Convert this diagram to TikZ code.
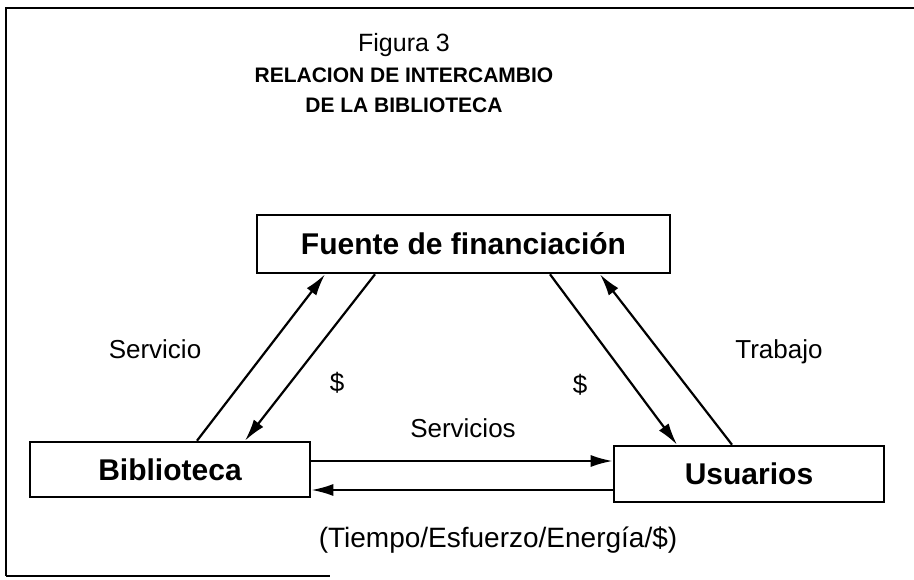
\documentclass[tikz,border=0pt]{standalone}
\usepackage{fontspec}
\setmainfont{Liberation Sans}
\usepackage{tikz}
\usetikzlibrary{arrows.meta,positioning,calc}

\tikzset{
  caja/.style={draw,line width=2.6pt,font=\bfseries\fontsize{30}{32}\selectfont,inner sep=0pt},
  flecha/.style={line width=2.2pt,-{Latex[length=22pt,width=12pt]}},
  etiq/.style={font=\fontsize{26}{28}\selectfont}
}

\begin{document}
\begin{tikzpicture}[x=1pt,y=-1pt]
\useasboundingbox (0,0) rectangle (914,580);
% Frame
\draw[line width=2.6pt] (914,8) -- (6,8) -- (6,576);
\draw[line width=1.2pt] (6,576) -- (330,576);

% Title
\node (fig) at (404,45) {\fontsize{25}{27}\selectfont Figura 3};
\node[font=\bfseries\fontsize{21}{30}\selectfont,align=center] (tit) at (404,90)
    {RELACION DE INTERCAMBIO\\DE LA BIBLIOTECA};

% Boxes
\node[caja,minimum width=413pt,minimum height=58pt] (fte) at (463.5,244) {Fuente de financiación};
\node[caja,minimum width=280pt,minimum height=55pt] (bib) at (170,469.5) {Biblioteca};
\node[caja,minimum width=270pt,minimum height=56pt] (usu) at (749,474) {Usuarios};

% Exchanges with the funding source
\draw[flecha] (bib.north -| 197,0) -- (fte.south -| 325,0);
\draw[flecha] (fte.south -| 375,0) -- (bib.north -| 245,0);
\draw[flecha] (fte.south -| 550,0) -- (usu.north -| 677,0);
\draw[flecha] (usu.north -| 732,0) -- (fte.south -| 600,0);

% Exchanges between library and users
\draw[flecha] (bib.east |- 0,461) -- (usu.west |- 0,461);
\draw[flecha] (usu.west |- 0,490) -- (bib.east |- 0,490);

% Labels
\node[etiq] (servicio) at (155,349) {Servicio};
\node[etiq] (din1) at (337,383) {\$};
\node[etiq] (din2) at (580,385) {\$};
\node[etiq] (trabajo) at (779,352) {Trabajo};
\node[etiq] (servicios) at (463,428) {Servicios};
\node[etiq,font=\fontsize{28}{30}\selectfont] (costo) at (498,540) {(Tiempo/Esfuerzo/Energía/\$)};
\end{tikzpicture}
\end{document}
